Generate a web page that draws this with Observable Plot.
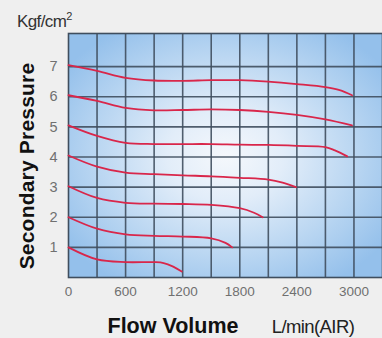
<!DOCTYPE html>
<html>
<head>
<meta charset="utf-8">
<script src="https://cdn.jsdelivr.net/npm/d3@7"></script>
<script src="https://cdn.jsdelivr.net/npm/@observablehq/plot@0.6"></script>
<style>
  html, body { margin: 0; padding: 0; background: #efefef; }
  svg { display: block; }
</style>
</head>
<body>
<div id="chart"></div>
<script>
// Secondary pressure set-points (Kgf/cm2)
const settings = [7, 6, 5, 4, 3, 2, 1];
// Flow volume (L/min) and secondary pressure for each set-point curve
const flow7 = [0, 300, 600, 900, 1200, 1500, 1800, 2100, 2400, 2700, 2850, 2980];
const press7 = [7.05, 6.86, 6.63, 6.54, 6.53, 6.55, 6.55, 6.5, 6.42, 6.32, 6.22, 6.05];
const flow6 = [0, 300, 600, 900, 1200, 1500, 1800, 2100, 2400, 2700, 2980];
const press6 = [6.05, 5.86, 5.63, 5.55, 5.56, 5.58, 5.56, 5.5, 5.4, 5.25, 5.05];
const flow5 = [0, 300, 600, 900, 1200, 1500, 1800, 2100, 2400, 2700, 2800, 2930];
const press5 = [5.05, 4.7, 4.47, 4.43, 4.43, 4.43, 4.41, 4.4, 4.37, 4.33, 4.22, 4.02];
const flow4 = [0, 300, 600, 900, 1200, 1500, 1800, 2100, 2250, 2390];
const press4 = [4.05, 3.68, 3.48, 3.43, 3.39, 3.36, 3.31, 3.25, 3.15, 3.0];
const flow3 = [0, 300, 600, 900, 1200, 1500, 1800, 1950, 2040];
const press3 = [3.03, 2.64, 2.48, 2.45, 2.44, 2.41, 2.3, 2.15, 2.0];
const flow2 = [0, 300, 600, 900, 1200, 1500, 1650, 1720];
const press2 = [2.0, 1.62, 1.43, 1.38, 1.36, 1.3, 1.15, 1.0];
const flow1 = [0, 300, 600, 900, 1000, 1100, 1190];
const press1 = [1.0, 0.6, 0.51, 0.51, 0.48, 0.36, 0.2];

// Axis ticks and grid
const xTicks = [0, 600, 1200, 1800, 2400, 3000];
const xGrid = [300, 600, 900, 1200, 1500, 1800, 2100, 2400, 2700, 3000];
const yTicks = [1, 2, 3, 4, 5, 6, 7];

const curves = [
  [7, flow7, press7], [6, flow6, press6], [5, flow5, press5], [4, flow4, press4],
  [3, flow3, press3], [2, flow2, press2], [1, flow1, press1]
];
const rows = curves.flatMap(([s, fx, py]) => fx.map((f, i) => ({set: s, flow: f, pressure: py[i]})));

const gridColor = "#3f4e5e";
const FONT = "Liberation Sans, Arial, sans-serif";
const plot = Plot.plot({
  width: 382,
  height: 338,
  marginLeft: 68,
  marginTop: 33,
  marginRight: 0,
  marginBottom: 61,
  style: {background: "#efefef", fontFamily: FONT},
  x: {domain: [0, 3300], label: null},
  y: {domain: [0, 8.1], label: null},
  marks: [
    Plot.frame({fill: "url(#bgGrad)", stroke: "none"}),
    Plot.ruleX(xGrid, {stroke: gridColor, strokeWidth: 1.6, strokeOpacity: 0.9}),
    Plot.ruleY(yTicks, {stroke: gridColor, strokeWidth: 1.6, strokeOpacity: 0.9}),
    Plot.frame({stroke: gridColor, strokeWidth: 1.6}),
    Plot.line(rows, {x: "flow", y: "pressure", z: "set", stroke: "#d9264a", strokeWidth: 1.8, curve: "catmull-rom"}),
    Plot.axisX({ticks: xTicks, tickFormat: d3.format("d"), tickSize: 0, tickPadding: 9, fontSize: 13.5, fill: "#707070", label: null}),
    Plot.axisY({ticks: yTicks, tickSize: 0, tickPadding: 11, fontSize: 14.5, fill: "#707070", label: null})
  ]
});

const svg = d3.select(plot);
const defs = svg.insert("defs", ":first-child");
const g = defs.append("radialGradient").attr("id", "bgGrad")
  .attr("cx", 0.5).attr("cy", 0.5).attr("r", 0.62);
g.append("stop").attr("offset", "0").attr("stop-color", "#f5f8fc");
g.append("stop").attr("offset", "0.3").attr("stop-color", "#e2edf9");
g.append("stop").attr("offset", "0.7").attr("stop-color", "#b6d4f1");
g.append("stop").attr("offset", "1").attr("stop-color", "#94c0eb");

const unitText = svg.append("text").attr("x", 17).attr("y", 27)
  .attr("text-anchor", "start")
  .attr("font-size", 17).attr("fill", "#333").attr("font-family", FONT)
  .style("letter-spacing", "-0.6px");
unitText.append("tspan").text("Kgf/cm");
unitText.append("tspan").attr("dy", -7).attr("font-size", 11).text("2");

svg.append("text").attr("transform", "translate(34,166) rotate(-90)")
  .attr("text-anchor", "middle").attr("font-size", 21).attr("font-weight", "bold")
  .attr("fill", "#111").attr("font-family", FONT)
  .style("letter-spacing", "0.2px")
  .text("Secondary Pressure");

svg.append("text").attr("x", 173).attr("y", 333)
  .attr("text-anchor", "middle").attr("font-size", 21.5).attr("font-weight", "bold")
  .attr("fill", "#111").attr("font-family", FONT)
  .text("Flow Volume");

svg.append("text").attr("x", 313).attr("y", 333)
  .attr("text-anchor", "middle").attr("font-size", 18.5).attr("fill", "#222")
  .attr("font-family", FONT)
  .style("letter-spacing", "-0.6px")
  .text("L/min(AIR)");

document.getElementById("chart").appendChild(plot);
</script>
</body>
</html>
